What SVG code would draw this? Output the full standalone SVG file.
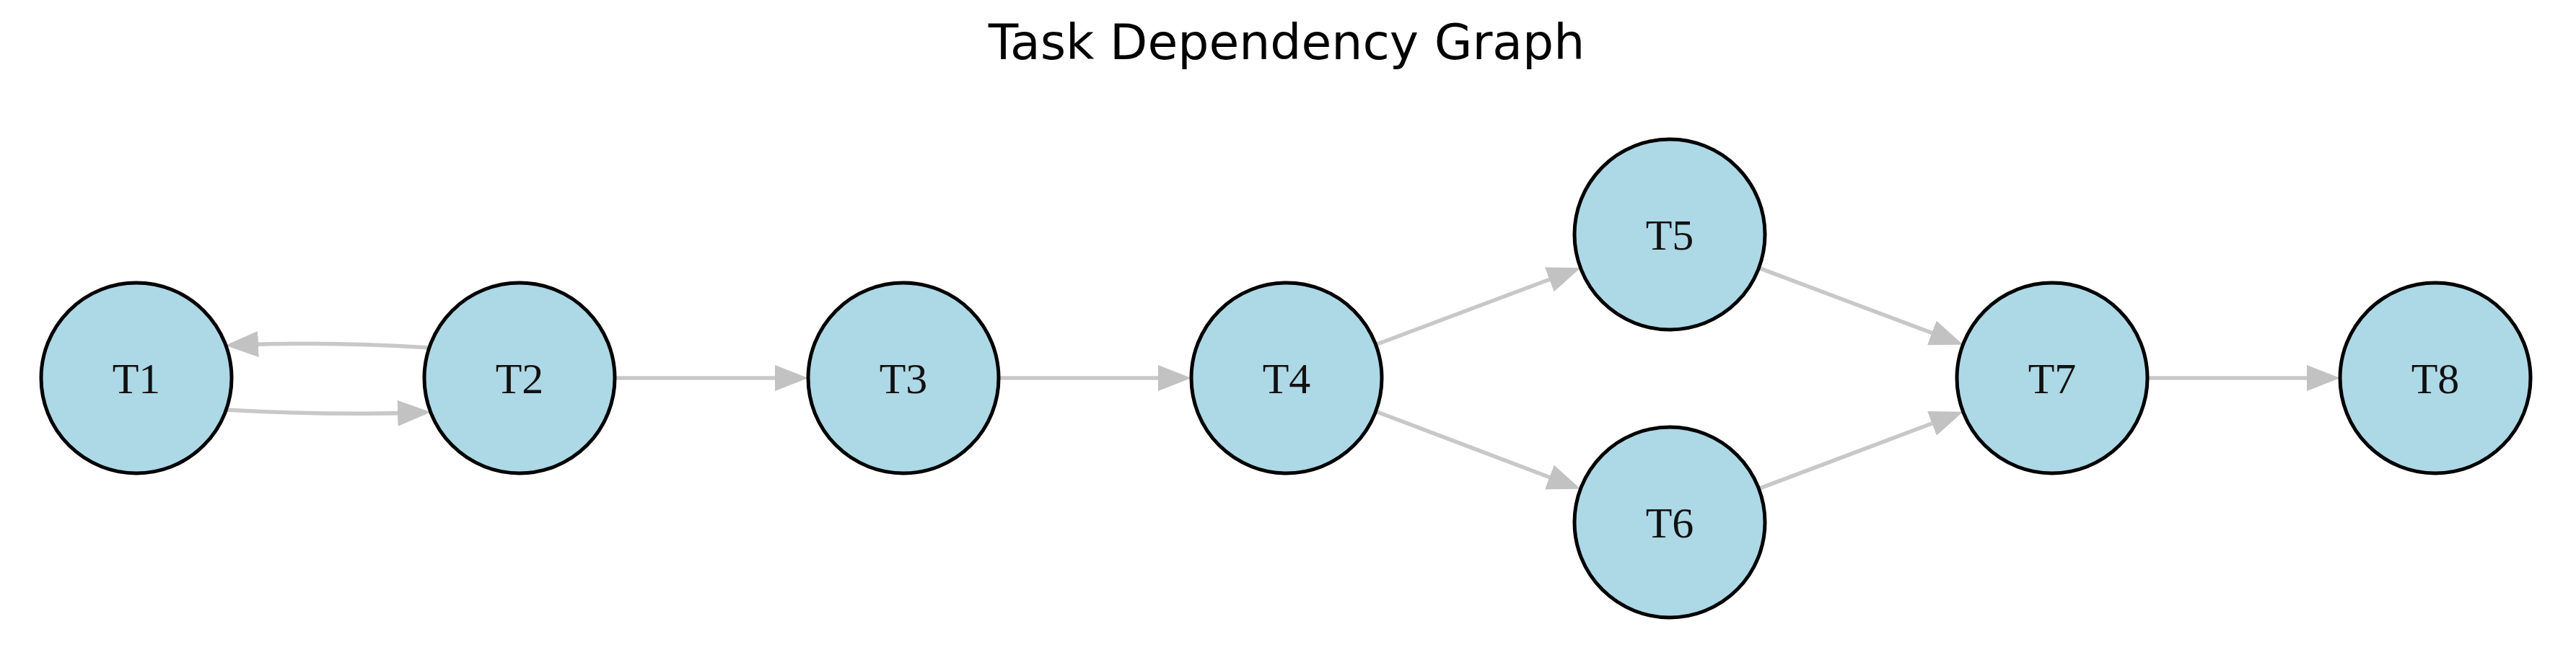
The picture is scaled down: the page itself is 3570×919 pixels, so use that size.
<svg xmlns="http://www.w3.org/2000/svg" width="3570" height="919" viewBox="0 0 3570 919">
<style>
.node circle{fill:#add8e6;stroke:#000;stroke-width:5}
.node text{font-family:"Liberation Serif","Times New Roman",serif;font-size:60px;fill:#111;text-anchor:middle}
.edge{fill:none;stroke:#c8c8c8;stroke-width:5.5;marker-end:url(#arrow)}
.title{font-family:"DejaVu Sans",sans-serif;font-size:68px;fill:#000;text-anchor:middle}
</style>
<defs>
<marker id="arrow" markerUnits="userSpaceOnUse" markerWidth="46" markerHeight="36" refX="26" refY="18" orient="auto" viewBox="0 0 46 36">
<path d="M0,0 L46,18 L0,36 z" fill="#c2c2c2"/>
</marker>
</defs>
<rect width="3570" height="919" fill="#fff"/>
<text class="title" x="1783" y="82">Task Dependency Graph</text>
<g id="connectors">
<path class="edge" d="M597,482 Q455,473 332,478"/>
<path class="edge" d="M312,568 Q455,576 577,572"/>
<path class="edge" d="M852,524 L1100,524"/>
<path class="edge" d="M1384,524 L1631,524"/>
<path class="edge" d="M1906.6,477.7 L2171.7,378.3"/>
<path class="edge" d="M1906.6,570.3 L2171.7,670.7"/>
<path class="edge" d="M2437.6,371.4 L2701.7,470.6"/>
<path class="edge" d="M2437.5,677.4 L2701.8,577.7"/>
<path class="edge" d="M2976,524 L3223,524"/>
</g>
<g id="T1" class="node"><circle cx="189" cy="524" r="132"/><text x="189" y="545">T1</text></g>
<g id="T2" class="node"><circle cx="720" cy="524" r="132"/><text x="720" y="545">T2</text></g>
<g id="T3" class="node"><circle cx="1252" cy="524" r="132"/><text x="1252" y="545">T3</text></g>
<g id="T4" class="node"><circle cx="1783" cy="524" r="132"/><text x="1783" y="545">T4</text></g>
<g id="T5" class="node"><circle cx="2314" cy="325" r="132"/><text x="2314" y="346">T5</text></g>
<g id="T6" class="node"><circle cx="2314" cy="724" r="132"/><text x="2314" y="745">T6</text></g>
<g id="T7" class="node"><circle cx="2844" cy="524" r="132"/><text x="2844" y="545">T7</text></g>
<g id="T8" class="node"><circle cx="3375" cy="524" r="132"/><text x="3375" y="545">T8</text></g>
</svg>
